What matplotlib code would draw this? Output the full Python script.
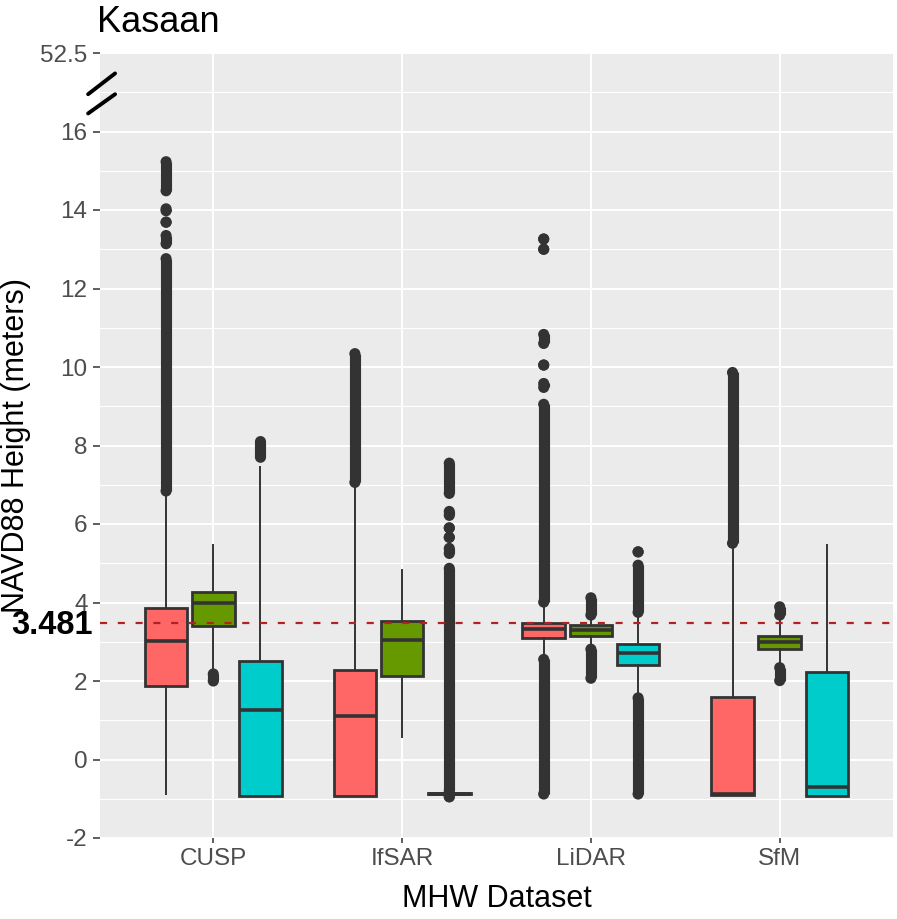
import matplotlib
matplotlib.use("Agg")
import matplotlib.pyplot as plt
import matplotlib.transforms as mtransforms

plt.rcParams['font.family'] = ['Liberation Sans', 'DejaVu Sans']

# ---------------- data ----------------
groups = ["CUSP", "IfSAR", "LiDAR", "SfM"]
colors = ["#FF6666", "#669900", "#00CCCC"]

# series 1 (red)
red_q1 = [1.88, -0.92, 3.10, -0.90]
red_med = [3.03, 1.10, 3.32, -0.89]
red_q3 = [3.85, 2.29, 3.48, 1.60]
red_lo = [-0.89, -0.92, 2.69, -0.90]
red_hi = [6.70, 6.92, 3.87, 5.37]
red_out = [
    [(15.23, 14.49), (14.03, 13.98), (13.69, 13.69), (13.35, 13.14), (12.76, 6.84)],
    [(10.34, 7.06)],
    [(13.26, 13.26), (13.00, 13.00), (10.83, 10.60), (10.05, 10.05), (9.58, 9.48),
     (9.05, 4.01), (2.55, -0.88)],
    [(9.86, 5.51)],
]

# series 2 (green)
grn_q1 = [3.41, 2.14, 3.15, 2.82]
grn_med = [4.00, 3.05, 3.30, 2.99]
grn_q3 = [4.27, 3.54, 3.43, 3.15]
grn_lo = [2.32, 0.57, 2.95, 2.48]
grn_hi = [5.47, 4.83, 3.54, 3.54]
grn_out = [
    [(2.18, 2.00)],
    [],
    [(4.12, 3.68), (2.81, 2.07)],
    [(3.89, 3.68), (2.34, 2.01)],
]

# series 3 (cyan)
cyn_q1 = [-0.92, -0.88, 2.40, -0.92]
cyn_med = [1.26, -0.87, 2.71, -0.70]
cyn_q3 = [2.52, -0.86, 2.93, 2.22]
cyn_lo = [-0.92, -0.92, 1.71, -0.92]
cyn_hi = [7.45, -0.85, 3.61, 5.47]
cyn_out = [
    [(8.10, 7.70)],
    [(7.55, 6.78), (6.32, 6.22), (5.90, 5.90), (5.66, 5.66), (5.38, 5.25),
     (4.87, -0.80), (-0.95, -0.95)],
    [(5.29, 5.29), (4.95, 3.75), (1.57, -0.88)],
    [],
]

hline_value = 3.481
yticks = [-2, 0, 2, 4, 6, 8, 10, 12, 14, 16, 18]
ytick_labels = ["-2", "0", "2", "4", "6", "8", "10", "12", "14", "16", "52.5"]

series = [
    (red_q1, red_med, red_q3, red_lo, red_hi, red_out),
    (grn_q1, grn_med, grn_q3, grn_lo, grn_hi, grn_out),
    (cyn_q1, cyn_med, cyn_q3, cyn_lo, cyn_hi, cyn_out),
]

# ---------------- figure ----------------
W, H = 897, 919
fig = plt.figure(figsize=(W / 100, H / 100), dpi=100)
ax = fig.add_axes([100 / W, 1 - 838 / H, 793 / W, 785 / H])
ax.set_facecolor("#EBEBEB")
for s in ax.spines.values():
    s.set_visible(False)

ax.set_xlim(0.4, 4.6)
ax.set_ylim(-2, 18)

# grid
ax.set_yticks(yticks)
ax.set_yticklabels(ytick_labels)
ax.set_yticks(list(range(-1, 18, 2)), minor=True)
ax.set_xticks(range(1, len(groups) + 1))
ax.set_xticklabels(groups)
ax.grid(which="major", color="white", lw=1.4)
ax.grid(which="minor", axis="y", color="white", lw=0.8)
ax.set_axisbelow(True)

ax.tick_params(axis="y", which="major", length=5, width=1.1, color="#333333",
               labelsize=17.5, labelcolor="#4D4D4D", pad=4)
ax.tick_params(axis="x", which="major", length=3.5, width=1.1, color="#333333",
               labelsize=17.5, labelcolor="#4D4D4D", pad=4)
ax.tick_params(which="minor", length=0)

offsets = [-0.25, 0.0, 0.25]
bw = 0.225
edge = "#333333"
marker_size = 64

for si, (q1, med, q3, lo, hi, outs) in enumerate(series):
    stats = []
    pos = []
    for gi in range(len(groups)):
        stats.append(dict(med=med[gi], q1=q1[gi], q3=q3[gi], whislo=lo[gi], whishi=hi[gi], fliers=[]))
        pos.append(gi + 1 + offsets[si])
    ax.bxp(stats, positions=pos, widths=bw, patch_artist=True, showfliers=False,
           showcaps=False, manage_ticks=False,
           boxprops=dict(facecolor=colors[si], edgecolor=edge, linewidth=2.0),
           medianprops=dict(color=edge, linewidth=2.6, solid_capstyle="butt"),
           whiskerprops=dict(color=edge, linewidth=1.4))
    for gi in range(len(groups)):
        x = gi + 1 + offsets[si]
        for (a, b) in outs[gi]:
            if a != b:
                ax.plot([x, x], [a, b], color=edge, lw=8.0, solid_capstyle="butt", zorder=3)
            ax.scatter([x, x], [a, b], s=marker_size, color=edge, edgecolors="none", zorder=3)

# reference line
ax.axhline(hline_value, color="#B22222", lw=1.6, linestyle=(0, (3.2, 4.8)), zorder=4)
trans = mtransforms.blended_transform_factory(ax.transAxes, ax.transData)
ax.text(-0.009, hline_value - 0.06, f"{hline_value}", transform=trans, ha="right", va="center",
        fontsize=23.5, fontweight="bold", color="black",
        family=["Liberation Sans Narrow", "Liberation Sans", "DejaVu Sans"])

# axis break marks
for (y0, y1) in [(16.95, 17.48), (16.46, 16.95)]:
    ax.plot([-0.015, 0.019], [y0, y1], transform=trans, color="black", lw=2.8,
            clip_on=False, zorder=5, solid_capstyle="round")

# labels
ax.set_ylabel("NAVD88 Height (meters)", fontsize=22, color="black")
ax.yaxis.set_label_coords(-0.087, 0.5)
ax.set_xlabel("MHW Dataset", fontsize=22, color="black", va="top")
ax.xaxis.set_label_coords(0.5, -0.058)

fig.text(97 / W, 1 - 32 / H, "Kasaan", fontsize=26, color="black", ha="left", va="baseline")

fig.savefig("out.png", dpi=100, facecolor="white")
